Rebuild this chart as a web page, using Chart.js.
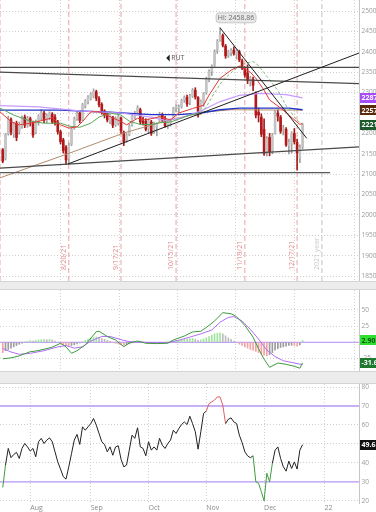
<!DOCTYPE html>
<html><head><meta charset="utf-8">
<script src="https://cdn.jsdelivr.net/npm/chart.js@4.4.1/dist/chart.umd.min.js"></script>
<style>
html,body{margin:0;padding:0;background:#fff;width:376px;height:512px;overflow:hidden}
canvas{position:absolute;left:0}
.sep{position:absolute;left:0;width:376px;background:#ececec;border-top:1px solid #d4d4d4;border-bottom:1px solid #d4d4d4;box-sizing:border-box}
</style></head><body>
<canvas id="c1" width="376" height="281" style="top:0"></canvas>
<div class="sep" style="top:281px;height:9px"></div>
<canvas id="c2" width="376" height="81" style="top:290px"></canvas>
<div class="sep" style="top:371px;height:13px"></div>
<canvas id="c3" width="376" height="128" style="top:384px"></canvas>
<script>
// ---------- data (trading-day index 0 = 2021-07-19) ----------
const monthIdx = [10, 32, 53, 74, 95, 117];
const monthLabels = ['Aug', 'Sep', 'Oct', 'Nov', 'Dec', '22'];
const expiryIdx = [-1, 24, 43, 63, 88, 107];
const expiryLabels = ['7/16/21', '8/20/21', '9/17/21', '10/15/21', '11/19/21', '12/17/21'];
const yearEndIdx = 116;
const yearEndLabel = '2021 year';
const priceTicks = [1850, 1900, 1950, 2000, 2050, 2100, 2150, 2200, 2250, 2300, 2350, 2400, 2450, 2500];

const open = [2160,2138,2200,2234,2200,2225,2205,2218,2240,2220, 2236,2226,2203,2226,2238,2250,2232,2240,2247,2240, 2228,2204,2184,2166,2139,2174,2213,2236,2250,2234, 2268,2277,2286,2292,2302,2285,2271,2255,2249,2230, 2240,2221,2226,2238,2203,2184,2197,2222,2240,2252, 2258,2230,2230,2212,2228,2204,2216,2232,2245,2236, 2219,2226,2240,2262,2262,2266,2282,2288,2276,2292, 2306,2288,2250,2274,2300,2334,2352,2368,2404,2430, 2440,2414,2392,2398,2404,2394,2400,2378,2358,2348, 2328,2332,2300,2252,2240,2210,2152,2190,2158,2200, 2250,2240,2208,2210,2170,2176,2200,2178,2140,2168];
const high = [2163,2200,2242,2238,2226,2230,2228,2243,2245,2242, 2240,2230,2233,2246,2258,2254,2248,2253,2251,2246, 2232,2208,2188,2170,2176,2214,2240,2254,2252,2274, 2283,2293,2300,2309,2306,2290,2275,2258,2252,2248, 2242,2241,2245,2240,2206,2200,2222,2246,2254,2268, 2262,2240,2236,2236,2232,2228,2226,2252,2250,2242, 2232,2236,2264,2270,2270,2284,2292,2294,2296,2310, 2312,2290,2282,2300,2338,2356,2368,2405,2430,2458.86, 2444,2418,2404,2408,2412,2406,2404,2382,2364,2368, 2340,2338,2302,2262,2248,2236,2192,2200,2200,2256, 2258,2244,2220,2214,2186,2204,2212,2186,2172,2224];
const low = [2128,2135,2196,2196,2190,2182,2198,2212,2214,2215, 2218,2190,2199,2220,2233,2226,2226,2233,2224,2220, 2198,2174,2152,2124,2126,2170,2210,2232,2226,2231, 2262,2272,2282,2287,2280,2265,2247,2238,2228,2224, 2214,2217,2220,2200,2170,2178,2194,2218,2236,2248, 2222,2220,2206,2200,2195,2200,2194,2228,2228,2215, 2212,2218,2238,2254,2250,2262,2276,2266,2270,2288, 2284,2240,2246,2266,2296,2326,2342,2364,2396,2426, 2412,2384,2386,2390,2392,2382,2376,2356,2338,2322, 2316,2305,2238,2228,2192,2146,2145,2145,2150,2198, 2230,2200,2196,2168,2150,2152,2174,2110,2128,2162];
const close = [2132,2196,2236,2203,2221,2190,2222,2238,2220,2237, 2230,2196,2229,2242,2250,2232,2244,2249,2228,2225, 2204,2180,2158,2135,2170,2210,2236,2248,2232,2270, 2279,2289,2296,2303,2286,2270,2254,2245,2233,2244, 2220,2237,2241,2206,2180,2195,2218,2242,2250,2262, 2228,2225,2210,2230,2200,2224,2222,2245,2233,2218, 2228,2233,2261,2265,2264,2280,2288,2272,2292,2306, 2289,2245,2279,2297,2333,2352,2365,2400,2426,2442, 2416,2390,2400,2403,2396,2402,2380,2360,2343,2330, 2336,2318,2245,2245,2198,2150,2187,2155,2195,2250, 2242,2205,2211,2172,2178,2199,2180,2152,2165,2221];

// moving averages: [index, price]
const maRed = [[-1,2253],[3,2229],[6,2221],[11,2226],[15,2233],[18,2238],[21,2221],[24,2213],[27,2216],[29,2229],[32,2253],[35,2253],[39,2241],[43,2229],[45,2221],[49,2237],[52,2233],[57,2241],[61,2233],[64,2250],[69,2261],[73,2269],[75,2294],[79,2335],[83,2355],[86,2365],[90,2350],[92,2335],[95,2306],[97,2282],[101,2262],[104,2245],[108,2222],[109,2225]];
const maGreen = [[-1,2262],[4,2245],[10,2230],[15,2225],[21,2225],[24,2218],[28,2215],[32,2225],[35,2240],[39,2250],[43,2245],[46,2230],[50,2222],[54,2222],[57,2226],[61,2228],[64,2235],[68,2245],[72,2250],[74,2265],[77,2300],[80,2330],[84,2355],[88,2372],[91,2376],[93,2366],[96,2340],[100,2305],[103,2268],[107,2232],[109,2221]];
const maViolet = [[-1,2268],[13,2265],[28,2255],[43,2250],[54,2240],[59,2232],[65,2238],[72,2255],[79,2278],[86,2293],[94,2298],[103,2295],[109,2287]];
const maBlue = [[-1,2257],[21,2257],[39,2252],[54,2246],[64,2246],[72,2250],[79,2258],[86,2262],[104,2262],[109,2258]];
const maBrown = [[-1,2091],[24,2151],[44,2201],[59,2230],[73,2252],[83,2258],[109,2257]];

// drawn trendlines: [[x1,y1],[x2,y2]]
const lineResist = [[-1,2362],[129.5,2362]];
const lineUpper = [[-1,2350],[129.5,2322]];
const lineRising = [[23.7,2125],[129.5,2397]];
const lineFromHi = [[79,2458.86],[110.5,2188]];
const lineSupport = [[-1,2115],[129.5,2167]];
const lineFloor = [[-1,2104],[119,2104]];

const hiIdx = 79, hiValue = 2458.86;
const symbolAt = [59.4, 2385], symbolText = 'RUT';
const mainLast = [[2287,'#a64dff','#fff'],[2257,'#5a2a0c','#fff'],[2221,'#1d5a2b','#fff']];

const macdTicks = [-25, 0, 25, 50];
const macdLine = [[0,-25.5],[3,-24],[6,-21],[10,-14.5],[12,-13.5],[15,-10.8],[18,-7.5],[21,-1.5],[23,-7],[25,-17],[27,-13],[30,-4],[34,16.4],[35,17],[38,9],[41,3.5],[44,-6.8],[46,-1],[49,2],[52,-1.5],[56,-2],[60,-1.5],[62,3.5],[66,9.7],[69,16],[72,17],[75,26],[77,33],[80,45.7],[83,44],[85,39.5],[88,26],[91,8],[93,-10],[95,-26],[97,-38.6],[100,-32],[103,-34],[106,-37],[108,-40],[109,-31.6]];
const macdSignal = [[0,-9.5],[3,-15],[6,-18.5],[10,-17],[15,-13],[20,-7],[23,-5],[26,-9],[29,-7],[32,2],[36,9],[39,9],[43,4],[46,1],[50,0],[55,-0.5],[60,-0.5],[64,3],[68,8],[72,13],[76,19],[79,31],[82,38.5],[84,39.5],[87,33],[90,20],[93,5],[96,-12],[99,-22],[102,-28.5],[106,-32],[109,-34.5]];
const macdHist = [-16,-13,-11,-9,-7,-5,-3,-1.5,0.5,1.5, 2.5,2,3,3.5,4,4.5,4,4.5,3.5,2, 0,-2,-3.5,-5,-6,-5,-4,-2.5,-1,1, 3,5,6.5,8,8.5,7.5,6,4.5,3,1.5, 0,-1.5,-2.5,-3.5,-4.5,-4,-2.5,-1,0.5,1.5, 1,0.5,-0.5,-1,-1.5,-1,-1,-0.5,-0.5,0, 0.5,1,2,3,3.5,4,4.5,5,5.5,6, 5,3,3.5,5,7,9,11,13,14,14.5, 13,10,7,4.5,2,0,-3,-5,-7,-9, -11,-12.5,-14,-16,-18,-20,-21,-19,-16,-12, -10,-8,-7,-6,-5,-4.5,-5,-6,-4,2.9];
const macdLast = [[2.90,'#2fe02f','#145214','2.90'],[-31.6,'#1f7a30','#fff','-31.6']];

const rsiTicks = [20, 30, 40, 50, 60, 70, 80];
const rsi = [27,38.8,47.6,42.7,44.4,45.5,42.3,47.6,50.2,48.4, 46.2,47.6,43.2,51.1,52.9,50.2,52,53.2,51.1,45.8, 40.5,36.7,32.7,31.4,37.9,44.9,52,55,49.7,59, 57.2,59,60.7,63.4,59.9,55.5,51.1,49.7,45.8,48.4, 44,48.4,49,41.9,37.9,38.8,46.7,54.6,52.9,58.5, 48.4,47.6,43.7,51.1,46.7,48.4,46.7,52.9,49.3,47.6, 50.2,52,57.2,55.5,58.1,60.2,61.6,60.2,64.6,60.7, 56.4,47.2,56.4,66.1,67.3,71.3,72.2,73.1,74.8,74.8, 70.4,60.7,63,63.7,61.6,60.7,54.6,50.7,45.8,43.7, 42.7,43.7,30,29.2,24.8,19.9,34.5,30,39.7,46.7, 48.4,42.3,37.9,35.6,40.9,37,40.5,36.7,46.7,49.6];
const rsiBands = [70, 30];

// ---------- helpers ----------
const FONT = "'Open Sans', 'DejaVu Sans', sans-serif";
Chart.defaults.font.family = FONT;
const XMIN = -1, XMAX = 129.5;
const pts = a => a.map(([x, y]) => ({x, y}));

function xScale(labels) {
  return {
    type: 'linear', min: XMIN, max: XMAX, offset: false,
    afterBuildTicks: s => { s.ticks = monthIdx.map(v => ({value: v})); },
    grid: {color: '#d2d2d2', lineWidth: 1, drawTicks: false},
    border: {display: false, dash: [1, 2]},
    ticks: {display: labels, autoSkip: false, maxRotation: 0, minRotation: 0, align: 'start', padding: 1,
      color: '#8a8a8a', font: {size: 7, family: FONT},
      callback: v => { const k = monthIdx.indexOf(v); return k >= 0 ? monthLabels[k] : ''; }},
    afterFit: s => { s.height = labels ? 9 : 0; s.paddingLeft = 0; s.paddingRight = 0; }
  };
}
function yScale(min, max, ticks, hidden) {
  return {
    position: 'right', min, max,
    afterBuildTicks: s => { s.ticks = ticks.map(v => ({value: v})); },
    grid: {color: c => (c.tick && hidden.includes(c.tick.value)) ? 'rgba(0,0,0,0)' : '#cfcfcf', lineWidth: 1, drawTicks: false},
    border: {display: true, color: '#c6c6c6', dash: [1, 2]},
    ticks: {color: '#9a9a9a', font: {size: 6.5, family: FONT}, padding: 2.5, callback: v => String(v)},
    afterFit: s => { s.width = 17; s.paddingTop = 0; s.paddingBottom = 0; }
  };
}
const lineDs = (data, color, width, order, extra) => Object.assign({
  type: 'line', data: pts(data), borderColor: color, borderWidth: width,
  pointRadius: 0, tension: 0, fill: false, order
}, extra || {});
const baseOpts = {responsive: false, animation: false, devicePixelRatio: 1, events: [],
  layout: {padding: 0}, plugins: {legend: {display: false}, tooltip: {enabled: false}}};

function tag(ctx, area, y, bg, fg, text) {
  ctx.fillStyle = bg;
  ctx.fillRect(area.right + 1, Math.round(y - 5), 20, 10);
  ctx.fillStyle = fg;
  ctx.font = 'bold 7px ' + FONT;
  ctx.textAlign = 'left'; ctx.textBaseline = 'middle';
  ctx.fillText(text, area.right + 2.5, y + 0.5);
}

// ---------- main price chart ----------
const idx = close.map((_, i) => i);
const up = i => close[i] >= open[i];
const PMIN = 1838.2, PMAX = 2527;
const vline = (k, color, dash, w) => lineDs([[k, PMIN], [k, PMAX]], color, w, 100, {borderDash: dash});

const mainAnnot = {
  id: 'mainAnnot',
  afterDraw(chart) {
    const {ctx, chartArea: a, scales: {x, y}} = chart;
    ctx.save();
    ctx.font = '7px ' + FONT;
    ctx.textAlign = 'left'; ctx.textBaseline = 'bottom';
    expiryIdx.forEach((k, j) => {
      const px = x.getPixelForValue(k);
      if (px < 8) return;
      ctx.save(); ctx.translate(px - 1.5, 270); ctx.rotate(-Math.PI / 2);
      ctx.fillStyle = '#e38b8b'; ctx.fillText(expiryLabels[j], 0, 0); ctx.restore();
    });
    const yx = x.getPixelForValue(yearEndIdx);
    ctx.save(); ctx.translate(yx - 1.5, 270); ctx.rotate(-Math.PI / 2);
    ctx.fillStyle = '#c9c9c9'; ctx.fillText(yearEndLabel, 0, 0); ctx.restore();

    // Hi bubble
    const hx = x.getPixelForValue(hiIdx), hy = y.getPixelForValue(hiValue);
    const bx = hx - 4, by = hy - 15, bw = 40, bh = 10;
    ctx.beginPath();
    ctx.roundRect(bx, by, bw, bh, 3);
    ctx.fillStyle = '#e8e8e8'; ctx.fill();
    ctx.strokeStyle = '#bdbdbd'; ctx.lineWidth = 0.8; ctx.stroke();
    ctx.fillStyle = '#6a6a6a'; ctx.textAlign = 'center'; ctx.textBaseline = 'middle';
    ctx.fillText('Hi: ' + hiValue.toFixed(2), bx + bw / 2, by + bh / 2 + 0.5);

    // symbol marker
    const sx = x.getPixelForValue(symbolAt[0]), sy = y.getPixelForValue(symbolAt[1]);
    ctx.fillStyle = '#222';
    ctx.beginPath(); ctx.moveTo(sx, sy); ctx.lineTo(sx + 3.5, sy - 3.5); ctx.lineTo(sx + 3.5, sy + 3.5); ctx.closePath(); ctx.fill();
    ctx.fillStyle = '#555'; ctx.textAlign = 'left';
    ctx.fillText(symbolText, sx + 5, sy + 0.5);

    mainLast.forEach(([v, bg, fg]) => tag(ctx, a, y.getPixelForValue(v), bg, fg, String(v)));
    ctx.restore();
  }
};

new Chart(document.getElementById('c1'), {
  type: 'bar',
  data: {datasets: [
    ...expiryIdx.map(k => vline(k, '#e8a3a3', [5, 3], 1)),
    vline(yearEndIdx, '#d6d6d6', [5, 3], 1.5),
    {type: 'bar', data: idx.map(i => ({x: i, y: [low[i], high[i]]})),
      backgroundColor: idx.map(i => up(i) ? '#9e9e9e' : '#a51b1b'), barThickness: 1, grouped: false, order: 60},
    {type: 'bar', data: idx.map(i => ({x: i, y: [open[i], close[i]]})),
      backgroundColor: idx.map(i => up(i) ? '#c4c4c4' : '#b3191b'), barThickness: 2, grouped: false, minBarLength: 1, order: 55},
    lineDs(maBrown, '#b08c6c', 1, 45),
    lineDs(maBlue, '#2334c8', 1.4, 44),
    lineDs(maViolet, '#c79cff', 1.2, 43),
    lineDs(maGreen, '#58a65a', 1, 42, {segment: {
      borderDash: c => c.p0.parsed.x >= 72 ? [3, 2] : undefined,
      borderColor: c => c.p0.parsed.x >= 72 ? '#7dbb7d' : '#58a65a'}}),
    lineDs(maRed, '#e53935', 1, 41),
    lineDs(lineResist, '#4a4a4a', 1.2, 20),
    lineDs(lineUpper, '#4a4a4a', 1.2, 20),
    lineDs(lineSupport, '#4a4a4a', 1.2, 20),
    lineDs(lineFloor, '#5a5a5a', 1.2, 20),
    lineDs(lineRising, '#1e1e1e', 1, 19),
    lineDs(lineFromHi, '#1e1e1e', 1, 19)
  ]},
  options: Object.assign({}, baseOpts, {
    scales: {x: xScale(false), y: yScale(PMIN, PMAX, priceTicks, [])}
  }),
  plugins: [mainAnnot]
});

// ---------- MACD ----------
const MMIN = -44.3, MMAX = 80.7;
const histColor = macdHist.map((v, i) => {
  const p = i > 0 ? macdHist[i - 1] : v;
  if (v >= 0) return v >= p ? '#9fe59f' : '#bdbdbd';
  return v <= p ? '#f2a3a3' : '#9c9c9c';
});
new Chart(document.getElementById('c2'), {
  type: 'bar',
  data: {datasets: [
    lineDs([[XMIN, 0], [XMAX, 0]], '#b489f2', 1, 70),
    {type: 'bar', data: macdHist.map((v, i) => ({x: i, y: v})), backgroundColor: histColor, barThickness: 1, grouped: false, order: 60},
    lineDs(macdSignal, '#b26ef5', 1, 41),
    lineDs(macdLine, '#3c9a3c', 1, 40)
  ]},
  options: Object.assign({}, baseOpts, {
    scales: {x: xScale(false), y: yScale(MMIN, MMAX, macdTicks, [0])}
  }),
  plugins: [{id: 'macdTags', afterDraw(chart) {
    const {ctx, chartArea: a, scales: {y}} = chart;
    ctx.save();
    macdLast.forEach(([v, bg, fg, t]) => tag(ctx, a, y.getPixelForValue(v), bg, fg, t));
    ctx.restore();
  }}]
});

// ---------- RSI ----------
const RMIN = 18.8, RMAX = 81.6;
new Chart(document.getElementById('c3'), {
  type: 'line',
  data: {datasets: [
    ...rsiBands.map(b => lineDs([[XMIN, b], [XMAX, b]], '#b596f2', 1.3, 70)),
    lineDs(rsi.map((v, i) => [i, v]), '#222', 1, 40, {segment: {
      borderColor: c => (c.p0.parsed.y > 70 || c.p1.parsed.y > 70) ? '#e06060' :
        ((c.p0.parsed.y < 30.5 || c.p1.parsed.y < 30.5) ? '#3f9b3f' : '#222')}})
  ]},
  options: Object.assign({}, baseOpts, {
    scales: {x: xScale(true), y: yScale(RMIN, RMAX, rsiTicks, rsiBands)}
  }),
  plugins: [{id: 'rsiTag', afterDraw(chart) {
    const {ctx, chartArea: a, scales: {y}} = chart;
    ctx.save();
    const v = rsi[rsi.length - 1];
    tag(ctx, a, y.getPixelForValue(v), '#111', '#fff', v.toFixed(1));
    ctx.restore();
  }}]
});
</script>
</body></html>
